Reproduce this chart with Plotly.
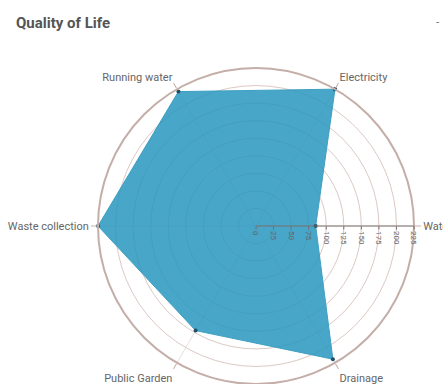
import plotly.graph_objects as go

# Survey categories (clockwise from the upper right) and their scores
categories = ["Electricity", "Water", "Drainage", "Public Garden", "Waste collection", "Running water"]
scores = [225, 85, 219, 172, 225, 221]

radial_ticks = [0, 25, 50, 75, 100, 125, 150, 175, 200, 225]

theta = categories + categories[:1]
r = scores + scores[:1]

W, H = 443, 384

fig = go.Figure()
fig.add_trace(go.Scatterpolar(
    r=r,
    theta=theta,
    mode="lines+markers",
    fill="toself",
    fillcolor="rgba(40,150,190,0.85)",
    line=dict(color="#3f9fc0", width=1),
    marker=dict(color="#1f4f66", size=4),
    hoverinfo="r+theta",
    showlegend=False,
))

fig.update_layout(
    width=W,
    height=H,
    margin=dict(l=0, r=0, t=0, b=0),
    paper_bgcolor="white",
    plot_bgcolor="white",
    font=dict(family="Roboto, Arial, sans-serif", color="#666666", size=11),
    polar=dict(
        domain=dict(x=[98 / W, 414 / W], y=[0.0, 316 / H]),
        bgcolor="rgba(0,0,0,0)",
        radialaxis=dict(
            range=[0, 225],
            tickvals=radial_ticks,
            angle=0,
            side="clockwise",
            tickangle=90,
            showline=True,
            linecolor="#7a6e6c",
            linewidth=1,
            ticks="outside",
            ticklen=3,
            tickcolor="#7a6e6c",
            gridcolor="#dcc9c4",
            gridwidth=1,
            tickfont=dict(size=8, color="#666666"),
            layer="above traces",
        ),
        angularaxis=dict(
            direction="clockwise",
            rotation=60,
            showline=True,
            linecolor="#c4aea8",
            linewidth=2,
            ticks="outside",
            ticklen=6,
            tickcolor="#c4aea8",
            gridcolor="rgba(200,185,180,0.45)",
            tickfont=dict(size=11, color="#666666"),
        ),
    ),
    annotations=[
        dict(text="<b>Quality of Life</b>", x=14 / W, y=1 - 23 / H, xref="paper", yref="paper",
             showarrow=False, xanchor="left", yanchor="middle",
             font=dict(size=15, color="#555555")),
        dict(text="-", x=438 / W, y=1 - 22 / H, xref="paper", yref="paper",
             showarrow=False, xanchor="center", yanchor="middle",
             font=dict(size=12, color="#888888")),
    ],
)

fig.write_html("out.html")
